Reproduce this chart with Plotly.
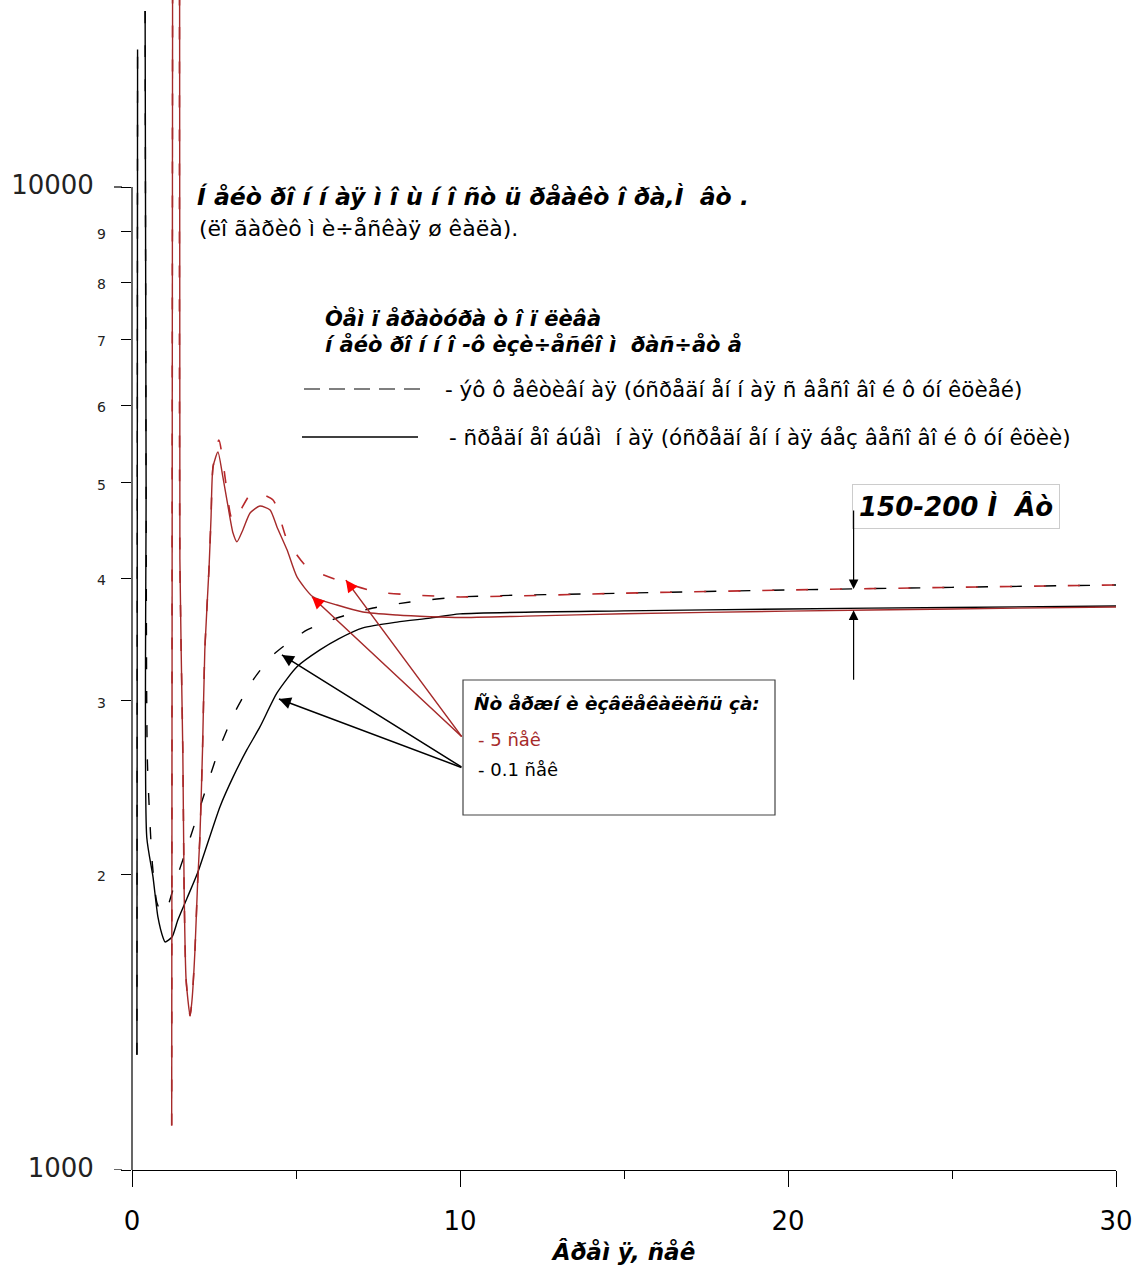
import math
import plotly.graph_objects as go

# ---- data: time (s) and reactor power (kW, log scale) ----
t_black_solid = [0.15, 0.17, None, 0.40, 0.43, 0.45, 0.64, 0.79, 0.95, 1.01, 1.22, 1.40, 1.68, 2.01,
                 2.68, 3.08, 3.50, 3.90, 4.42, 5.03, 5.73, 6.30, 7.04, 8.08, 9.09, 10, 15, 20, 25, 30]
p_black_solid = [1310, 13800, None, 15100, 5000, 2180, 1987, 1809, 1722, 1706, 1726, 1797, 1891, 2010,
                 2341, 2510, 2675, 2823, 3057, 3250, 3381, 3470, 3560, 3609, 3643, 3679, 3705, 3722, 3735, 3748]

t_black_dash = [0.15, 0.17, None, 0.40, 0.43, 0.47, 0.62, 0.76, 0.91, 1.02, 1.31, 1.62, 1.98, 2.32,
                2.68, 3.14, 3.69, 4.30, 5.34, 6.34, 7.35, 8.48, 10, 15, 20, 25, 30]
p_black_dash = [1310, 13800, None, 15100, 5000, 2600, 2050, 1870, 1826, 1830, 1959, 2101, 2286, 2481,
                2694, 2924, 3151, 3342, 3543, 3652, 3730, 3783, 3828, 3862, 3891, 3915, 3937]

t_red_solid = [1.21, 1.24, None, 1.45, 1.46, 1.55, 1.59, 1.65, 1.77, 1.83, 1.92, 2.00, 2.07, 2.15, 2.22,
               2.35, 2.41, 2.47, 2.62, 2.77, 2.93, 3.08, 3.20, 3.38, 3.60, 3.90, 4.21, 4.42, 4.73, 5.03,
               5.52, 6.25, 7.04, 8.08, 9.09, 10, 12, 15, 20, 25, 30]
p_red_solid = [1110, 20000, None, 20000, 4184, 2656, 1922, 1561, 1435, 1489, 1674, 1959, 2182, 2675, 3381,
               4106, 4617, 5191, 5376, 5070, 4727, 4446, 4355, 4478, 4660, 4737, 4692, 4510, 4272, 4012,
               3828, 3756, 3695, 3669, 3655, 3648, 3660, 3680, 3703, 3722, 3739]

t_red_dash = [1.21, 1.24, None, 1.45, 1.46, 1.55, 1.59, 1.65, 1.77, 1.83, 1.92, 2.00, 2.07, 2.15, 2.22,
              2.35, 2.41, 2.47, 2.65, 2.99, 3.08, 3.54, 3.69, 4.30, 4.73, 5.34, 6.43, 7.47, 8.57,
              10, 15, 20, 25, 30]
p_red_dash = [1110, 20000, None, 20000, 4184, 2656, 1922, 1561, 1435, 1489, 1674, 1959, 2182, 2675, 3381,
              4106, 4617, 5191, 5529, 4660, 4562, 4837, 4894, 4804, 4374, 4106, 3965, 3873, 3846,
              3828, 3862, 3891, 3915, 3937]

y_tick_vals = [1000, 2000, 3000, 4000, 5000, 6000, 7000, 8000, 9000, 10000]
y_tick_text = ["1000", "2", "3", "4", "5", "6", "7", "8", "9", "10000"]
x_tick_vals = [0, 10, 20, 30]

BLACK = "#000000"
DARK_RED = "#a52a2a"
RED_DASH = "#b8282a"
ARROW_RED = "#ff0000"

FONT = "DejaVu Sans, Verdana, sans-serif"

# plot-area geometry (figure pixels) used for placing the text blocks
W, H = 1135, 1269
ML, MR, MT, MB = 132, 19, 0, 99
PW, PH = W - ML - MR, H - MT - MB


def px(x):
    return (x - ML) / PW


def py(y):
    return (MT + PH - y) / PH


fig = go.Figure()

curve_shape = dict(shape="spline", smoothing=0.6)
fig.add_trace(go.Scatter(x=t_black_dash, y=p_black_dash, mode="lines",
                         line=dict(color=BLACK, width=1.4, dash="12px,22px", **curve_shape), showlegend=False))
fig.add_trace(go.Scatter(x=t_red_dash, y=p_red_dash, mode="lines",
                         line=dict(color=RED_DASH, width=1.6, dash="12px,22px", **curve_shape), showlegend=False))
fig.add_trace(go.Scatter(x=t_black_solid, y=p_black_solid, mode="lines",
                         line=dict(color=BLACK, width=1.4, **curve_shape), showlegend=False))
fig.add_trace(go.Scatter(x=t_red_solid, y=p_red_solid, mode="lines",
                         line=dict(color=DARK_RED, width=1.4, **curve_shape), showlegend=False))

shapes = []
# y axis spine only between 1000 and 10000
shapes.append(dict(type="line", xref="paper", yref="y", x0=0, x1=0, y0=1000, y1=10000,
                   line=dict(color=BLACK, width=1.2)))
# longer ticks for the decade marks
for v in (1000, 10000):
    shapes.append(dict(type="line", xref="paper", yref="y", x0=px(114), x1=px(122), y0=v, y1=v,
                       line=dict(color=BLACK, width=1.2)))
# line samples of the legend
shapes.append(dict(type="line", xref="paper", yref="paper", x0=px(304), x1=px(420), y0=py(389), y1=py(389),
                   line=dict(color=BLACK, width=1.2, dash="16px,9px")))
shapes.append(dict(type="line", xref="paper", yref="paper", x0=px(302), x1=px(418), y0=py(437), y1=py(437),
                   line=dict(color=BLACK, width=1.4)))
# frame of the rod-withdrawal note
shapes.append(dict(type="rect", xref="paper", yref="paper", x0=px(463), x1=px(775), y0=py(815), y1=py(680),
                   line=dict(color="#444444", width=1.2), fillcolor="white", layer="above"))

ann = []


def text(x, y, s, size, color=BLACK):
    ann.append(dict(xref="paper", yref="paper", x=px(x), y=py(y), text=s, showarrow=False,
                    xanchor="left", yanchor="middle", font=dict(family=FONT, size=size, color=color)))


text(195, 197, "<b><i>Í åéò ðî í í àÿ ì î ù í î ñò ü ðåàêò î ðà,Ì  âò .</i></b>", 23.5)
text(197, 229, "(ëî ãàðèô ì è÷åñêàÿ ø êàëà).", 22)
text(323, 318, "<b><i>Òåì ï åðàòóðà ò î ï ëèâà</i></b>", 21)
text(323, 345, "<b><i>í åéò ðî í í î -ô èçè÷åñêî ì  ðàñ÷åò å</i></b>", 21)
text(443, 389, "- ýô ô åêòèâí àÿ (óñðåäí åí í àÿ ñ âåñî âî é ô óí êöèåé)", 21.5)
text(447, 437, "- ñðåäí åî áúåì  í àÿ (óñðåäí åí í àÿ áåç âåñî âî é ô óí êöèè)", 21.5)
text(472, 703, "<b><i>Ñò åðæí è èçâëåêàëèñü çà:</i></b>", 18.5)
text(476, 739, "- 5 ñåê", 18, color=DARK_RED)
text(476, 769, "- 0.1 ñåê", 18, color=BLACK)

# power band label
ann.append(dict(xref="paper", yref="paper", x=px(852), y=py(506), xanchor="left", yanchor="middle",
                text="<b><i>150-200 Ì  Âò</i></b>", showarrow=False, bgcolor="white",
                bordercolor="#cccccc", borderwidth=1, borderpad=6,
                font=dict(family=FONT, size=26, color=BLACK)))

# pointer arrows from the note to the curves: (tip time, tip power, tail dx, tail dy, colour, head colour)
pointers = [
    (5.49, 3828, 151, 141, DARK_RED, ARROW_RED),
    (6.52, 3982, 117, 158, DARK_RED, ARROW_RED),
    (4.57, 3342, 181, 113, BLACK, BLACK),
    (4.48, 3014, 184, 69, BLACK, BLACK),
]
for tx, tp, dx, dy, col, hcol in pointers:
    ann.append(dict(x=tx, y=math.log10(tp), xref="x", yref="y", ax=dx, ay=dy, text="",
                    showarrow=True, arrowhead=0, arrowwidth=1.5, arrowcolor=col))
    L = math.hypot(dx, dy)
    ann.append(dict(x=tx, y=math.log10(tp), xref="x", yref="y", ax=dx / L * 14, ay=dy / L * 14, text="",
                    showarrow=True, arrowhead=2, arrowsize=1.6, arrowwidth=1.5, arrowcolor=hcol))

# band arrows at t = 22 s
ann.append(dict(x=22, y=math.log10(3900), xref="x", yref="y", ax=0, ay=-80, text="",
                showarrow=True, arrowhead=2, arrowsize=1.6, arrowwidth=1.2, arrowcolor=BLACK))
ann.append(dict(x=22, y=math.log10(3710), xref="x", yref="y", ax=0, ay=71, text="",
                showarrow=True, arrowhead=2, arrowsize=1.6, arrowwidth=1.2, arrowcolor=BLACK))

big = '<span style="font-size:26px">{}</span><span style="font-size:19px">&nbsp;&nbsp;</span>'
small = '<span style="font-size:14px">{}</span>'
y_text = [big.format(s) if len(s) > 1 else small.format(s) for s in y_tick_text]

fig.update_layout(
    width=W, height=H,
    margin=dict(l=ML, r=MR, t=MT, b=MB),
    paper_bgcolor="white", plot_bgcolor="white",
    showlegend=False,
    shapes=shapes, annotations=ann,
    xaxis=dict(range=[0, 30], tickvals=x_tick_vals, ticks="outside", ticklen=16, tickwidth=1.2,
               tickcolor=BLACK, showline=True, linecolor=BLACK, linewidth=1.2, showgrid=False, zeroline=False,
               minor=dict(dtick=5, ticks="outside", ticklen=8, tickwidth=1.2, tickcolor=BLACK, showgrid=False),
               ticklabelstandoff=12,
               tickfont=dict(family=FONT, size=26, color=BLACK),
               title=dict(text="<b><i>Âðåì ÿ, ñåê</i></b>", font=dict(family=FONT, size=23, color=BLACK),
                          standoff=8)),
    yaxis=dict(type="log", range=[3, 3 + PH / 983], tickvals=y_tick_vals, ticktext=y_text,
               ticks="outside", ticklen=10, tickwidth=1.2, tickcolor=BLACK, showline=False,
               showgrid=False, zeroline=False, ticklabelstandoff=11,
               tickfont=dict(family=FONT, size=20, color="#222222")),
)

fig.write_html("out.html")
